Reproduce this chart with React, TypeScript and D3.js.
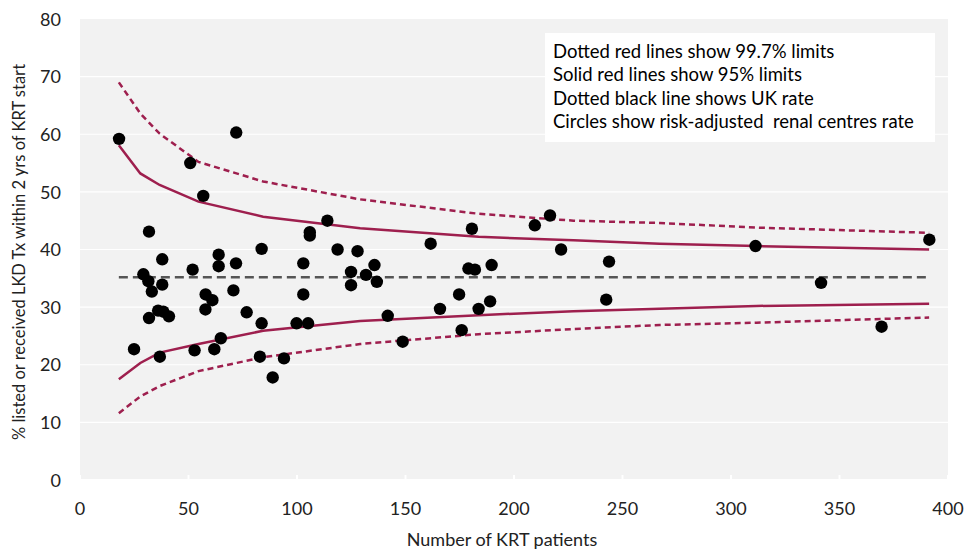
import React from "react";
import * as d3 from "d3";

// centre points: number of KRT patients and risk-adjusted rate (%)
const centreN = [
  18.0, 72.0, 50.8, 56.8, 31.8, 114.0, 105.9, 105.9, 29.2, 31.5, 33.1, 37.9,
  37.9, 31.8, 36.0, 38.4, 41.0, 24.9, 36.8, 51.9, 57.9, 61.0, 57.8, 63.9,
  63.9, 71.9, 70.7, 76.8, 83.7, 83.7, 52.8, 61.9, 64.9, 82.9, 94.0, 88.8,
  102.9, 102.9, 99.8, 105.1, 118.7, 127.9, 124.9, 124.9, 131.8, 135.7,
  136.8, 141.8, 148.7, 161.6, 165.9, 174.7, 175.9, 180.6, 179.0, 182.0,
  189.7, 183.7, 189.0, 209.6, 216.6, 221.7, 243.8, 242.5, 311.3, 391.4,
  341.5, 369.4,
];
const centreRate = [
  59.2, 60.3, 55.0, 49.3, 43.1, 45.0, 43.0, 42.4, 35.7, 34.5, 32.7, 38.3,
  33.9, 28.1, 29.4, 29.2, 28.4, 22.7, 21.4, 36.5, 32.2, 31.2, 29.6, 39.1,
  37.1, 37.6, 32.9, 29.1, 40.1, 27.2, 22.5, 22.7, 24.6, 21.4, 21.1, 17.8,
  37.6, 32.2, 27.2, 27.2, 40.0, 39.7, 36.1, 33.8, 35.6, 37.3, 34.4, 28.5,
  24.0, 41.0, 29.7, 32.2, 26.0, 43.6, 36.7, 36.5, 37.3, 29.7, 31.0, 44.2,
  45.9, 40.0, 37.9, 31.3, 40.6, 41.7, 34.2, 26.6,
];

// funnel limits
const limitN = [17.9, 27.8, 36.7, 54.6, 84.4, 129.1, 183.7, 227.4, 267.1, 311.8, 391.3];
const upper997 = [69.0, 63.6, 60.1, 55.2, 51.8, 48.7, 46.2, 45.0, 44.6, 43.8, 42.9];
const upper95 = [58.1, 53.2, 51.2, 48.3, 45.7, 43.7, 42.2, 41.6, 41.0, 40.6, 40.0];
const lower95 = [17.5, 20.3, 22.1, 23.6, 25.9, 27.6, 28.6, 29.3, 29.7, 30.2, 30.6];
const lower997 = [11.6, 14.5, 16.3, 18.9, 21.3, 23.6, 25.3, 26.2, 26.9, 27.3, 28.2];

const ukRate = 35.2;
const ukRange = [17.9, 391.3];

const xTicks = [0, 50, 100, 150, 200, 250, 300, 350, 400];
const yTicks = [0, 10, 20, 30, 40, 50, 60, 70, 80];

const legendLines = [
  "Dotted red lines show 99.7% limits",
  "Solid red lines show 95% limits",
  "Dotted black line shows UK rate",
  "Circles show risk-adjusted  renal centres rate",
];

const W = 964;
const H = 551;
const RED = "#9e1f4e";
const FONT = "Lato, 'Open Sans', sans-serif";

export default function App() {
  const x = d3.scaleLinear().domain([0, 400]).range([80, 948]);
  const y = d3.scaleLinear().domain([0, 80]).range([480, 19]);

  const line = d3
    .line<number>()
    .x((_, i) => x(limitN[i]))
    .y((d) => y(d));

  const limits = [
    { vals: upper997, dash: "6,4" },
    { vals: upper95, dash: null },
    { vals: lower95, dash: null },
    { vals: lower997, dash: "6,4" },
  ];

  return (
    <svg width={W} height={H} style={{ position: "absolute", left: 0, top: 0 }}>
      <rect x={0} y={0} width={W} height={H} fill="#fff" />
      {/* plot background */}
      <rect x={x(0)} y={y(80)} width={x(400) - x(0)} height={y(0) - y(80) - 1} fill="#f2f2f2" />
      {yTicks.slice(1, -1).map((t) => (
        <line key={t} x1={x(0)} x2={x(400)} y1={y(t)} y2={y(t)} stroke="#fff" strokeWidth={1.2} />
      ))}
      {xTicks.map((t) => (
        <line key={t} x1={x(t)} x2={x(t)} y1={y(0) - 5} y2={y(0)} stroke="#fff" strokeWidth={2} />
      ))}

      {/* UK rate */}
      <line
        x1={x(ukRange[0])}
        x2={x(ukRange[1])}
        y1={y(ukRate)}
        y2={y(ukRate)}
        stroke="#555"
        strokeWidth={2.5}
        strokeDasharray="9,5"
      />

      {limits.map((l, i) => (
        <path
          key={i}
          d={line(l.vals) || ""}
          fill="none"
          stroke={RED}
          strokeWidth={2.5}
          strokeDasharray={l.dash || undefined}
        />
      ))}

      {centreN.map((n, i) => (
        <circle key={i} cx={x(n)} cy={y(centreRate[i])} r={6.2} fill="#000" />
      ))}

      {/* legend box */}
      <rect x={545} y={33} width={390} height={109} fill="#fff" />
      {legendLines.map((s, i) => (
        <text
          key={i}
          x={553}
          y={57.5 + i * 23.5}
          fontFamily={FONT}
          fontSize={18.5}
          fill="#000"
          style={{ whiteSpace: "pre" }}
        >
          {s}
        </text>
      ))}

      {/* axis labels */}
      {yTicks.map((t) => (
        <text
          key={t}
          x={61}
          y={y(t) + 6.7}
          textAnchor="end"
          fontFamily={FONT}
          fontSize={18}
          fill="#222"
        >
          {t}
        </text>
      ))}
      {xTicks.map((t) => (
        <text
          key={t}
          x={x(t)}
          y={515}
          textAnchor="middle"
          fontFamily={FONT}
          fontSize={18}
          fill="#222"
        >
          {t}
        </text>
      ))}
      <text x={502} y={546} textAnchor="middle" fontFamily={FONT} fontSize={18} fill="#222">
        Number of KRT patients
      </text>
      <text
        transform={`translate(25,252) rotate(-90)`}
        textAnchor="middle"
        fontFamily={FONT}
        fontSize={16.5}
        fill="#222"
      >
        % listed or received LKD Tx within 2 yrs of KRT start
      </text>
    </svg>
  );
}
